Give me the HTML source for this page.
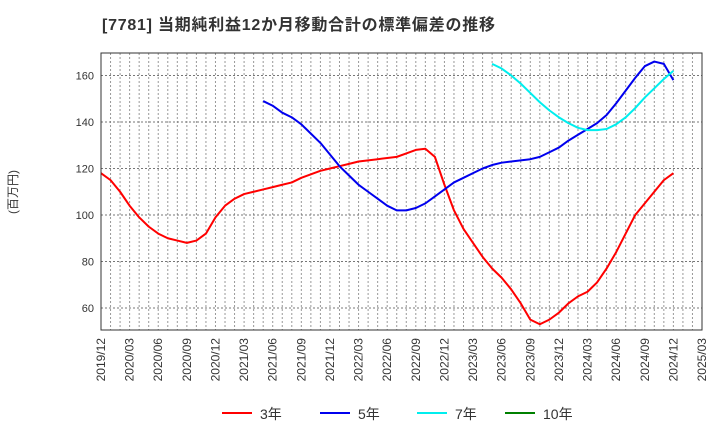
<!DOCTYPE html>
<html><head><meta charset="utf-8"><style>
body{margin:0;background:#fff;}
svg{display:block;font-family:"Liberation Sans","Noto Sans CJK JP",sans-serif;}
</style></head><body>
<svg id="chart" width="720" height="440">
<text x="102" y="30" font-size="16" font-weight="bold" fill="#333" textLength="393" lengthAdjust="spacing">[7781]  当期純利益12か月移動合計の標準偏差の推移</text>
<text transform="translate(17,192) rotate(-90)" font-size="12" fill="#333" text-anchor="middle">(百万円)</text>
<g id="grid"></g><g id="series"></g><g id="axes"></g><g id="legend"></g>
</svg>
<script>
const yTicks=[60,80,100,120,140,160];
const xTickLabels=["2019/12","2020/03","2020/06","2020/09","2020/12","2021/03","2021/06","2021/09","2021/12","2022/03","2022/06","2022/09","2022/12","2023/03","2023/06","2023/09","2023/12","2024/03","2024/06","2024/09","2024/12","2025/03"];
const s3start=0;
const s3=[118,115,110,104,99,95,92,90,89,88,89,92,99,104,107,109,110,111,112,113,114,116,117.5,119,120,121,122,123,123.5,124,124.5,125,126.5,128,128.5,125,113,102,94,88,82,77,73,68,62,55,53,55,58,62,65,67,71,77,84,92,100,105,110,115,118];
const s5start=17;
const s5=[149,147,144,142,139,135,131,126,121,117,113,110,107,104,102,102,103,105,108,111,114,116,118,120,121.5,122.5,123,123.5,124,125,127,129,132,134.5,137,139.5,143,148,153.5,159,164,166,165,158];
const s7start=41;
const s7=[165,163,160,156.5,152.5,148.5,145,142,139.5,137.5,136.5,136.5,137,139,142,146,150.5,154.5,158.5,162];
const s10start=0;
const s10=[];
const L=101,R=702,T=53,B=330,NM=63;
const X=m=>L+(R-L)*m/NM;
const Y=v=>308-(v-60)*2.325;
const NS="http://www.w3.org/2000/svg";
function mk(p,t,a){const e=document.createElementNS(NS,t);for(const k in a)e.setAttribute(k,a[k]);p.appendChild(e);return e;}
const grid=document.getElementById('grid');
for(let m=1;m<NM;m++){const l=mk(grid,'line',{x1:X(m),x2:X(m),y1:T,y2:B,stroke:'#999','stroke-dasharray':'2,2','stroke-width':1});

}
yTicks.forEach(v=>{const l=mk(grid,'line',{x1:L,x2:R,y1:Y(v),y2:Y(v),stroke:'#777','stroke-dasharray':'2,2','stroke-width':1});

});
const ax=document.getElementById('axes');
const fr=mk(ax,'rect',{x:L,y:T,width:R-L,height:B-T,fill:'none',stroke:'#333','stroke-width':1});


yTicks.forEach(v=>{const t=mk(ax,'text',{x:L-7,y:Y(v)+4,'font-size':11,fill:'#333','text-anchor':'end'});t.textContent=v;

});
xTickLabels.forEach((s,i)=>{const x=X(i*3);const t=mk(ax,'text',{transform:`translate(${x+4},${B+8}) rotate(-90)`,'font-size':12,fill:'#333','text-anchor':'end'});t.textContent=s;

});
const sg=document.getElementById('series');
function line(arr,start,col,name){if(!arr.length)return;const p=mk(sg,'polyline',{points:arr.map((v,i)=>X(start+i)+','+Y(v)).join(' '),fill:'none',stroke:col,'stroke-width':2,'stroke-linejoin':'round'});

}
line(s3,s3start,'#ff0000','series-3y');
line(s5,s5start,'#0000ee','series-5y');
line(s7,s7start,'#00eeee','series-7y');
line(s10,s10start,'#008000','series-10y');
const lg=document.getElementById('legend');
[['3年','#ff0000',222],['5年','#0000ee',320],['7年','#00eeee',417],['10年','#008000',505]].forEach(([n,c,x])=>{
const g=mk(lg,'g',{});


mk(g,'line',{x1:x,x2:x+30,y1:413,y2:413,stroke:c,'stroke-width':2});
const t=mk(g,'text',{x:x+38,y:419,'font-size':14,fill:'#333'});t.textContent=n;});
</script>
</body></html>
